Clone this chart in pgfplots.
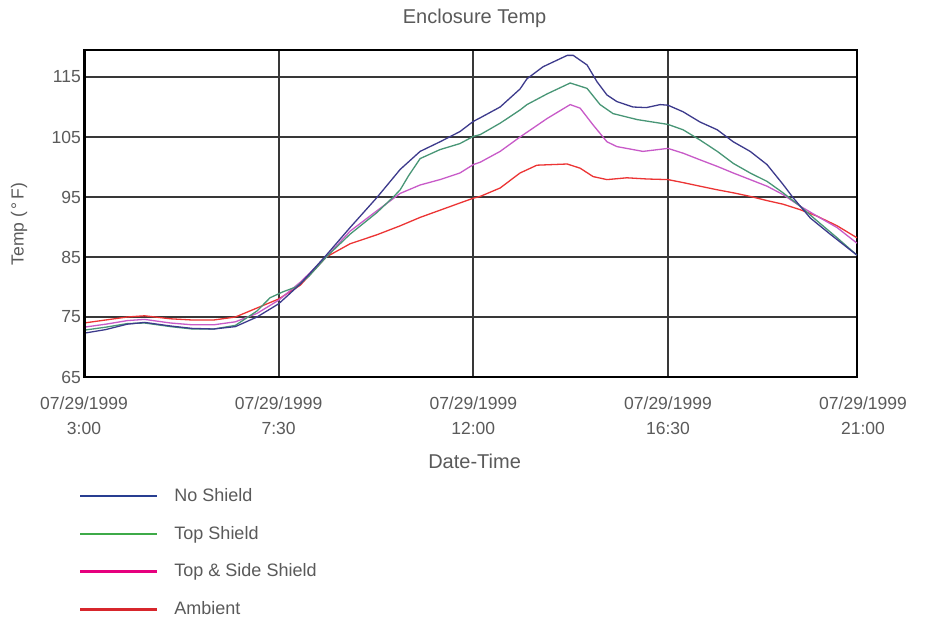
\documentclass[border=0pt]{standalone}
\usepackage{pgfplots}
\pgfplotsset{compat=1.18}
\usepackage{fontspec}
\setmainfont{Liberation Sans}
\definecolor{txt}{RGB}{90,90,90}
\definecolor{cblue}{RGB}{60,58,140}
\definecolor{cgreen}{RGB}{72,150,118}
\definecolor{cmag}{RGB}{200,90,200}
\definecolor{cred}{RGB}{236,52,52}
\definecolor{lblue}{RGB}{40,62,145}
\definecolor{lgreen}{RGB}{62,170,72}
\definecolor{lmag}{RGB}{230,0,126}
\definecolor{lred}{RGB}{215,38,44}
\newcommand\lbl{\fontsize{17.5bp}{25bp}\selectfont}
\newcommand\lgd{\fontsize{18bp}{22bp}\selectfont}
\newcommand\ttl{\fontsize{20bp}{24bp}\selectfont}
\begin{document}
\begin{tikzpicture}
\useasboundingbox (0bp,0bp) rectangle (927bp,618bp);
\fill[white] (0bp,0bp) rectangle (927bp,618bp);
\begin{axis}[
  at={(84bp,241bp)}, anchor=south west,
  scale only axis, width=773bp, height=327bp,
  xmin=3, xmax=20.87, ymin=65, ymax=119.5,
  xtick={3,7.5,12,16.5},
  xticklabels={{07/29/1999\\3:00},{07/29/1999\\7:30},{07/29/1999\\12:00},{07/29/1999\\16:30}},
  ytick={65,75,85,95,105,115},
  /pgf/number format/assume math mode=true,
  grid=major,
  major grid style={black!78, line width=1.8bp},
  tick style={draw=none},
  axis line style={black, line width=1.5bp},
  xticklabel style={align=center, font=\lbl, text=txt, anchor=north, inner sep=0pt, yshift=-20bp},
  yticklabel style={font=\lbl, text=txt, anchor=east, inner sep=0pt, xshift=-3bp},
  legend style={draw=none, fill=none, font=\lgd, text=txt,
    at={(axis description cs:-0.0069,-0.341)}, anchor=north west,
    inner sep=0pt, row sep=25.3bp, column sep=16bp,
    nodes={inner sep=0pt, text height=12.5bp, text depth=0bp}},
  legend cell align=left,
  legend image code/.code={\draw[#1] (0bp,-1.2bp) -- (77bp,-1.2bp);},
]
\addlegendimage{lblue, line width=2.6bp}
\addlegendimage{lgreen, line width=2.6bp}
\addlegendimage{lmag, line width=2.6bp}
\addlegendimage{lred, line width=2.6bp}
\legend{No Shield, Top Shield, Top \& Side Shield, Ambient}

% Ambient
\addplot[cred, line width=1.3bp, forget plot] coordinates {
(3.0,74.0)(3.5,74.5)(4.0,75.0)(4.4,75.2)(5.0,74.7)(5.5,74.5)(6.0,74.5)(6.5,75.0)
(7.0,76.5)(7.5,78.0)(8.0,80.3)(8.6,85.0)(9.15,87.2)(9.77,88.7)(10.31,90.2)(10.77,91.6)
(11.23,92.8)(11.69,94.0)(12.0,94.8)(12.16,95.1)(12.62,96.5)(13.08,99.0)(13.47,100.3)
(14.17,100.5)(14.47,99.8)(14.77,98.4)(15.09,97.9)(15.55,98.2)(16.02,98.0)(16.5,97.9)
(16.85,97.4)(17.24,96.8)(17.64,96.2)(18.01,95.7)(18.4,95.1)(18.79,94.4)(19.16,93.8)
(19.55,92.9)(19.95,91.8)(20.41,90.2)(20.87,88.2)
};
% Top & Side Shield
\addplot[cmag, line width=1.3bp, forget plot] coordinates {
(3.0,73.3)(3.5,73.8)(4.0,74.4)(4.4,74.6)(5.0,74.0)(5.5,73.7)(6.0,73.7)(6.5,74.2)
(7.0,75.6)(7.5,77.8)(8.0,80.8)(8.6,85.0)(9.15,89.3)(9.77,92.7)(10.31,95.6)(10.77,97.0)
(11.23,97.9)(11.69,99.0)(12.0,100.4)(12.16,100.8)(12.62,102.6)(13.08,105.0)(13.71,108.1)
(14.24,110.4)(14.47,109.8)(14.77,107.0)(15.09,104.2)(15.32,103.4)(15.92,102.6)(16.5,103.1)
(16.85,102.3)(17.24,101.2)(17.64,100.1)(18.01,99.0)(18.4,97.9)(18.79,96.8)(19.16,95.4)
(19.55,93.5)(19.95,91.8)(20.41,89.9)(20.87,87.3)
};
% Top Shield
\addplot[cgreen, line width=1.3bp, forget plot] coordinates {
(3.0,72.8)(3.5,73.3)(4.0,73.9)(4.4,74.0)(5.0,73.4)(5.5,73.0)(6.0,73.0)(6.5,73.6)
(7.0,76.0)(7.3,78.2)(7.6,79.2)(7.9,80.0)(8.2,81.8)(8.6,85.0)(9.15,88.8)(9.77,92.4)
(10.15,95.0)(10.31,96.2)(10.5,98.5)(10.77,101.4)(11.23,102.9)(11.69,103.9)(12.0,105.1)
(12.16,105.4)(12.62,107.3)(13.08,109.5)(13.24,110.4)(13.71,112.2)(14.24,114.0)(14.63,113.1)
(14.93,110.4)(15.23,108.9)(15.79,107.9)(16.32,107.3)(16.5,107.1)(16.85,106.2)(17.24,104.5)
(17.64,102.6)(18.01,100.6)(18.4,99.0)(18.79,97.6)(19.16,95.7)(19.55,93.5)(19.95,91.0)
(20.41,88.2)(20.87,85.3)
};
% No Shield
\addplot[cblue, line width=1.3bp, forget plot] coordinates {
(3.0,72.3)(3.5,72.9)(4.0,73.8)(4.4,74.1)(5.0,73.5)(5.5,73.1)(6.0,73.0)(6.5,73.4)
(7.0,75.0)(7.5,77.2)(8.0,80.5)(8.6,85.3)(9.15,89.9)(9.77,94.9)(10.31,99.6)(10.77,102.6)
(11.23,104.2)(11.69,105.9)(12.0,107.6)(12.16,108.2)(12.62,110.0)(13.08,113.0)(13.24,114.7)
(13.61,116.7)(14.17,118.6)(14.31,118.6)(14.63,117.0)(14.86,114.2)(15.09,112.0)(15.32,110.9)
(15.69,110.0)(16.0,109.9)(16.32,110.4)(16.5,110.3)(16.85,109.2)(17.24,107.5)(17.64,106.2)
(18.01,104.2)(18.4,102.6)(18.79,100.4)(19.16,97.1)(19.39,94.9)(19.79,91.5)(20.25,88.8)
(20.87,85.3)
};
\end{axis}
\draw[black, line width=3bp] (84bp,241bp) -- (84bp,568bp);
\node[align=center, font=\lbl, text=txt, anchor=north, inner sep=0pt, yshift=-20bp] at (863bp,241bp) {07/29/1999\\21:00};
\node[anchor=base, font=\ttl, text=txt] at (474.6bp,594.3bp) {Enclosure Temp};
\node[anchor=base, font=\ttl, text=txt] at (474.6bp,149bp) {Date-Time};
\node[anchor=base, rotate=90, font=\lbl, text=txt] at (23.5bp,394bp) {Temp (\,°\,F)};
\end{tikzpicture}
\end{document}
